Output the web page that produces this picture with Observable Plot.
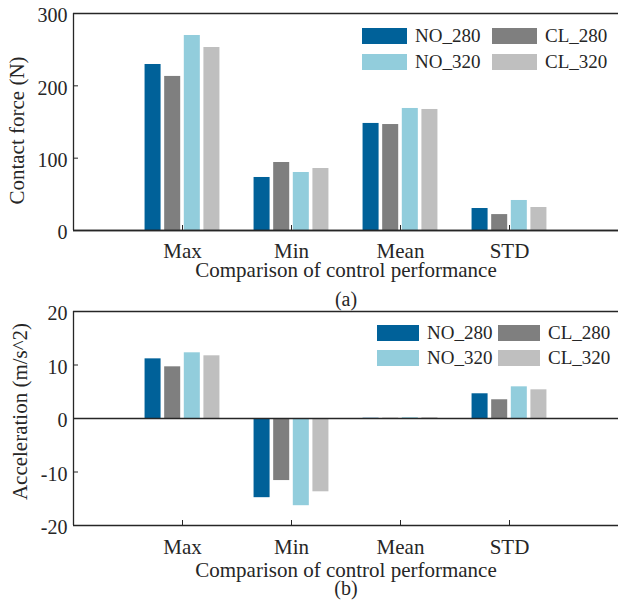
<!DOCTYPE html>
<html><head><meta charset="utf-8">
<script src="https://cdn.jsdelivr.net/npm/d3@7"></script>
<script src="https://cdn.jsdelivr.net/npm/@observablehq/plot@0.6"></script>
<style>
body{margin:0;background:#fff;}
#wrap{position:relative;width:618px;height:602px;font-family:"Liberation Serif","Times New Roman",serif;color:#262626;}
#wrap svg{display:block;}
.lg{position:absolute;font-size:19px;line-height:16px;white-space:nowrap;}
.sw{position:absolute;height:16px;}
</style></head><body><div id="wrap"></div>
<script>
// ---- data ----
const categories = ["Max", "Min", "Mean", "STD"];
const series = ["NO_280", "CL_280", "NO_320", "CL_320"];
const colors = ["#006199", "#7f7f7f", "#92cddc", "#bfbfbf"];
const forceNO280 = [229.5, 73.3, 148, 30.4];
const forceCL280 = [213, 94, 146.5, 22];
const forceNO320 = [269.6, 80.2, 168.7, 41.5];
const forceCL320 = [253, 85.7, 167.3, 31.8];
const accNO280 = [11.15, -14.8, 0.05, 4.62];
const accCL280 = [9.66, -11.6, 0.05, 3.5];
const accNO320 = [12.28, -16.3, 0.15, 5.92];
const accCL320 = [11.72, -13.7, 0.15, 5.36];
const forceTicks = [0, 100, 200, 300];
const accTicks = [-20, -10, 0, 10, 20];
const yLabels = ["Contact force (N)", "Acceleration (m/s^2)"];
const xLabel = "Comparison of control performance";
const panelLabels = ["(a)", "(b)"];

const INK = "#262626";
const STEP = 0.18, BARW = 0.147;

function rows(arrs) {
  const out = [];
  arrs.forEach((vals, si) => vals.forEach((v, ci) => out.push({cat: categories[ci], ci, series: series[si], si, value: v})));
  return out;
}

function chart({data, ticks, domain, height, marginTop, marginBottom, yLabel, panel, yLabelDx, yLabelDy, xTitleDy, panelDy, catPad}) {
  return Plot.plot({
    width: 618, height, marginLeft: 73, marginRight: 0, marginTop, marginBottom,
    style: {fontFamily: "Liberation Serif, Times New Roman, serif", fontSize: "20px", color: INK, background: "transparent", overflow: "visible"},
    x: {domain: [0, 5], axis: null},
    y: {domain, axis: null},
    color: {domain: series, range: colors},
    marks: [
      Plot.rectY(data, {
        x1: d => d.ci + 1 + (d.si - 1.5) * STEP - BARW / 2,
        x2: d => d.ci + 1 + (d.si - 1.5) * STEP + BARW / 2,
        y1: 0, y2: "value", fill: "series"
      }),
      Plot.ruleY([0], {stroke: INK, strokeWidth: 1.5}),
      Plot.ruleY([domain[0]], {stroke: INK, strokeWidth: 1.3}),
      Plot.ruleY([domain[1]], {stroke: INK, strokeWidth: 1.3}),
      Plot.ruleX([0], {stroke: INK, strokeWidth: 1.3}),
      Plot.axisY({ticks, tickSize: 0, tickPadding: 6, dy: 2.5, fontSize: 20, label: null, tickFormat: d => String(d)}),
      Plot.axisY({ticks, tickSize: -5, tickFormat: () => "", label: null, stroke: INK}),
      Plot.axisX({ticks: [1, 2, 3, 4], tickFormat: i => categories[i - 1], tickSize: 0, tickPadding: catPad, fontSize: 21, label: null}),
      Plot.axisX({ticks: [1, 2, 3, 4], tickSize: -5, tickFormat: () => "", label: null, stroke: INK}),
      Plot.text([yLabel], {frameAnchor: "left", textAnchor: "middle", text: d => d, rotate: -90, dx: yLabelDx, dy: yLabelDy, fontSize: 21, fill: INK}),
      Plot.text([xLabel], {frameAnchor: "bottom", text: d => d, lineAnchor: "top", dy: xTitleDy, fontSize: 21, fill: INK}),
      Plot.text([panel], {frameAnchor: "bottom", text: d => d, lineAnchor: "top", dy: panelDy, fontSize: 20, fill: INK})
    ]
  });
}

function legend(left, top, colStep, rowStep, swW, textGap) {
  const div = document.createElement("div");
  series.forEach((s, i) => {
    const r = Math.floor(i / 2), c = i % 2;
    const sw = document.createElement("div");
    sw.className = "sw";
    Object.assign(sw.style, {left: (left + c * colStep) + "px", top: (top + r * rowStep) + "px", width: swW + "px", background: colors[i]});
    const t = document.createElement("div");
    t.className = "lg";
    t.textContent = s;
    Object.assign(t.style, {left: (left + c * colStep + textGap) + "px", top: (top + r * rowStep) + "px"});
    div.append(sw, t);
  });
  return div;
}

const wrap = document.getElementById("wrap");
const top1 = chart({
  data: rows([forceNO280, forceCL280, forceNO320, forceCL320]),
  ticks: forceTicks, domain: [0, 300], height: 300, marginTop: 13, marginBottom: 70,
  yLabel: yLabels[0], panel: panelLabels[0], yLabelDx: -56, yLabelDy: 8.5,
  xTitleDy: 31.5, panelDy: 61, catPad: 12.5
});
const bot = chart({
  data: rows([accNO280, accCL280, accNO320, accCL320]),
  ticks: accTicks, domain: [-20, 20], height: 302, marginTop: 11, marginBottom: 77,
  yLabel: yLabels[1], panel: panelLabels[1], yLabelDx: -53, yLabelDy: -7,
  xTitleDy: 36.5, panelDy: 55, catPad: 13.5
});
wrap.append(top1, bot);
wrap.append(legend(362, 28, 130, 26, 45, 53));
wrap.append(legend(377, 325, 121, 25, 42, 50));
</script></body></html>
